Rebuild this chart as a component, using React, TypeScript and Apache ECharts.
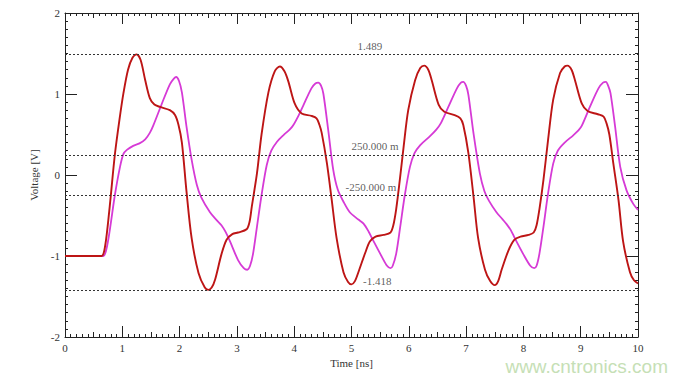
import React, { useEffect, useRef } from "react";
import * as echarts from "echarts";

const redT = [0, 0.64, 0.68, 0.72, 0.76, 0.8, 0.87, 0.95, 1.02, 1.1, 1.18, 1.25, 1.32, 1.4, 1.48, 1.56, 1.66, 1.83, 1.92, 1.98, 2.04, 2.12, 2.21, 2.33, 2.44, 2.5, 2.56, 2.62, 2.73, 2.82, 2.92, 3.02, 3.17, 3.22, 3.26, 3.35, 3.43, 3.55, 3.66, 3.75, 3.83, 3.9, 4.01, 4.13, 4.3, 4.39, 4.44, 4.48, 4.57, 4.65, 4.74, 4.86, 4.94, 5.0, 5.06, 5.12, 5.24, 5.32, 5.42, 5.56, 5.68, 5.73, 5.78, 5.84, 5.91, 5.99, 6.11, 6.2, 6.27, 6.34, 6.4, 6.52, 6.62, 6.8, 6.9, 6.95, 7.04, 7.13, 7.21, 7.33, 7.42, 7.5, 7.56, 7.62, 7.74, 7.84, 7.95, 8.09, 8.18, 8.23, 8.28, 8.35, 8.43, 8.52, 8.64, 8.72, 8.77, 8.84, 8.9, 9.02, 9.12, 9.3, 9.4, 9.45, 9.5, 9.57, 9.66, 9.74, 9.86, 9.93, 10];
const redV = [-1.0, -1.0, -0.95, -0.78, -0.53, -0.25, 0.25, 0.68, 1.01, 1.3, 1.45, 1.489, 1.42, 1.17, 0.95, 0.87, 0.84, 0.8, 0.74, 0.62, 0.4, -0.2, -0.78, -1.21, -1.39, -1.418, -1.39, -1.29, -0.98, -0.8, -0.73, -0.71, -0.67, -0.58, -0.39, 0.02, 0.5, 1.02, 1.28, 1.34, 1.28, 1.15, 0.88, 0.76, 0.73, 0.7, 0.62, 0.52, 0.15, -0.28, -0.78, -1.2, -1.32, -1.35, -1.31, -1.2, -0.96, -0.82, -0.76, -0.74, -0.71, -0.62, -0.42, -0.08, 0.35, 0.8, 1.17, 1.32, 1.35, 1.3, 1.17, 0.87, 0.78, 0.74, 0.7, 0.62, 0.27, -0.27, -0.78, -1.17, -1.31, -1.36, -1.31, -1.17, -0.93, -0.8, -0.76, -0.74, -0.71, -0.62, -0.42, -0.06, 0.43, 0.93, 1.26, 1.34, 1.35, 1.3, 1.17, 0.88, 0.79, 0.75, 0.72, 0.64, 0.5, 0.14, -0.31, -0.82, -1.2, -1.3, -1.34];

const magT = [0, 0.67, 0.71, 0.75, 0.79, 0.87, 0.96, 1.02, 1.08, 1.19, 1.3, 1.4, 1.48, 1.54, 1.69, 1.83, 1.9, 1.94, 1.99, 2.04, 2.12, 2.21, 2.3, 2.38, 2.53, 2.65, 2.73, 2.8, 2.88, 3.02, 3.12, 3.18, 3.23, 3.28, 3.35, 3.43, 3.52, 3.6, 3.7, 3.81, 3.92, 3.98, 4.08, 4.16, 4.3, 4.37, 4.42, 4.47, 4.51, 4.6, 4.68, 4.76, 4.86, 4.97, 5.12, 5.21, 5.3, 5.38, 5.53, 5.62, 5.68, 5.72, 5.78, 5.85, 5.93, 6.02, 6.1, 6.2, 6.37, 6.48, 6.56, 6.69, 6.84, 6.91, 6.95, 7.0, 7.04, 7.13, 7.24, 7.32, 7.4, 7.53, 7.64, 7.71, 7.78, 7.85, 8.0, 8.12, 8.19, 8.23, 8.28, 8.35, 8.43, 8.52, 8.6, 8.72, 8.87, 8.96, 9.02, 9.16, 9.31, 9.39, 9.44, 9.48, 9.52, 9.6, 9.69, 9.8, 9.92, 10];
const magV = [-1.0, -1.0, -0.95, -0.82, -0.64, -0.25, 0.1, 0.26, 0.31, 0.36, 0.39, 0.44, 0.52, 0.61, 0.88, 1.12, 1.19, 1.21, 1.16, 1.02, 0.6, 0.19, -0.12, -0.28, -0.46, -0.56, -0.62, -0.7, -0.82, -1.05, -1.15, -1.17, -1.12, -0.98, -0.64, -0.25, 0.12, 0.3, 0.41, 0.49, 0.56, 0.61, 0.74, 0.86, 1.07, 1.13, 1.14, 1.1, 1.0, 0.52, 0.07, -0.18, -0.33, -0.46, -0.55, -0.6, -0.7, -0.81, -1.01, -1.12, -1.15, -1.12, -0.97, -0.64, -0.25, 0.1, 0.27, 0.37, 0.48, 0.56, 0.64, 0.84, 1.07, 1.14, 1.15, 1.1, 0.99, 0.51, 0.02, -0.2, -0.32, -0.46, -0.55, -0.61, -0.68, -0.78, -0.98, -1.12, -1.15, -1.12, -0.97, -0.64, -0.23, 0.14, 0.3, 0.4, 0.49, 0.55, 0.61, 0.84, 1.07, 1.14, 1.15, 1.1, 1.01, 0.6, 0.1, -0.19, -0.36, -0.43];

const refValues = [1.489, 0.25, -0.25, -1.418];
const refLabels = ["1.489", "250.000 m", "-250.000 m", "-1.418"];
const refLabelT = [5.32, 5.41, 5.34, 5.45];

const FONT = "Liberation Serif";

export default function App() {
  const ref = useRef<HTMLDivElement>(null);
  useEffect(() => {
    if (!ref.current) return;
    const chart = echarts.init(ref.current, null, { renderer: "svg" });
    const grid = { left: 65, right: 51, top: 13, bottom: 43 };
    const lineStyle = { color: "#222", width: 1 };
    const baseX = (pos: string, showLine: boolean, extra: any) => ({
      type: "value",
      min: 0,
      max: 10,
      position: pos,
      splitLine: { show: false },
      axisLine: { show: showLine, onZero: false, lineStyle },
      ...extra,
    });
    const baseY = (pos: string, extra: any) => ({
      type: "value",
      min: -2,
      max: 2,
      position: pos,
      splitLine: { show: false },
      axisLine: { show: true, onZero: false, lineStyle },
      ...extra,
    });
    const option: any = {
      animation: false,
      backgroundColor: "#fff",
      grid,
      xAxis: [
        baseX("bottom", true, {
          interval: 0.5,
          axisTick: { inside: true, length: 5, lineStyle },
          minorTick: { show: true, splitNumber: 5, length: 3, lineStyle },
          axisLabel: { show: false },
        }),
        baseX("bottom", false, {
          interval: 1,
          axisTick: { inside: true, length: 11, lineStyle },
          axisLabel: { show: true, margin: 5, color: "#333", fontFamily: FONT, fontSize: 11 },
          name: "Time [ns]",
          nameLocation: "middle",
          nameGap: 19,
          nameTextStyle: { color: "#333", fontFamily: FONT, fontSize: 11 },
        }),
        baseX("top", true, {
          interval: 0.5,
          axisTick: { inside: true, length: 5, lineStyle },
          minorTick: { show: true, splitNumber: 5, length: 3, lineStyle },
          axisLabel: { show: false },
        }),
        baseX("top", false, {
          interval: 1,
          axisTick: { inside: true, length: 11, lineStyle },
          axisLabel: { show: false },
        }),
      ],
      yAxis: [
        baseY("left", {
          interval: 1,
          axisTick: { inside: true, length: 12, lineStyle },
          minorTick: { show: true, splitNumber: 10, length: 3, lineStyle },
          axisLabel: { show: true, margin: 5, color: "#333", fontFamily: FONT, fontSize: 11 },
          name: "Voltage [V]",
          nameLocation: "middle",
          nameGap: 24,
          nameTextStyle: { color: "#333", fontFamily: FONT, fontSize: 11 },
        }),
        baseY("right", {
          interval: 1,
          axisTick: { inside: true, length: 12, lineStyle },
          minorTick: { show: true, splitNumber: 10, length: 3, lineStyle },
          axisLabel: { show: false },
        }),
      ],
      series: [
        {
          type: "line",
          name: "magenta",
          xAxisIndex: 0,
          yAxisIndex: 0,
          data: magT.map((t, i) => [t, magV[i]]),
          showSymbol: false,
          smooth: 0.3,
          lineStyle: { color: "#d63ad6", width: 1.8 },
          z: 3,
        },
        {
          type: "line",
          name: "red",
          xAxisIndex: 0,
          yAxisIndex: 0,
          data: redT.map((t, i) => [t, redV[i]]),
          showSymbol: false,
          smooth: 0.3,
          lineStyle: { color: "#bd1515", width: 1.9 },
          z: 4,
          markLine: {
            silent: true,
            symbol: "none",
            label: { show: false },
            lineStyle: { color: "#333", width: 1, type: [2, 2] },
            data: refValues.map((v) => ({ yAxis: v })),
          },
        },
        {
          type: "scatter",
          xAxisIndex: 0,
          yAxisIndex: 0,
          symbolSize: 0,
          silent: true,
          data: refValues.map((v, i) => ({ value: [refLabelT[i], v], name: refLabels[i] })),
          label: {
            show: true,
            position: "top",
            distance: 3,
            formatter: (p: any) => p.name,
            color: "#333",
            fontFamily: FONT,
            fontSize: 11,
          },
          z: 5,
        },
      ],
      graphic: [
        {
          type: "text",
          right: 21,
          bottom: 4,
          style: {
            text: "www.cntronics.com",
            fill: "#c6dfb6",
            font: "19px 'Liberation Sans', Arial, sans-serif",
          },
        },
      ],
    };
    chart.setOption(option);
    return () => chart.dispose();
  }, []);
  return <div ref={ref} style={{ width: 689, height: 380, position: "absolute", left: 0, top: 0 }} />;
}
